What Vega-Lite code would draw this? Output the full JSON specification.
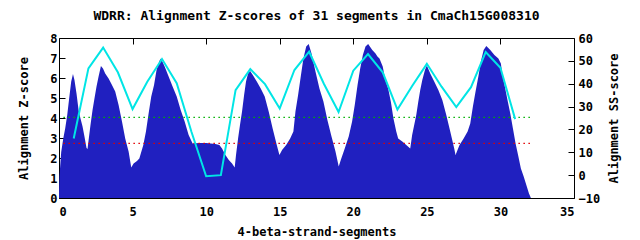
{
  "$schema": "https://vega.github.io/schema/vega-lite/v6.json",
  "width": 515,
  "height": 160,
  "autosize": "none",
  "padding": {"left": 59, "top": 38, "right": 66, "bottom": 42},
  "background": "white",
  "config": {
    "view": {"stroke": "black", "strokeWidth": 1},
    "font": "DejaVu Sans Mono",
    "axis": {"grid": false, "domain": false, "labelFont": "DejaVu Sans Mono", "labelFontWeight": "bold", "labelFontSize": 12, "labelColor": "black", "titleFont": "DejaVu Sans Mono", "titleFontWeight": "bold", "titleFontSize": 12, "titleColor": "black", "tickColor": "black", "tickSize": -6}
  },
  "title": {"text": "WDRR: Alignment Z-scores of 31 segments in CmaCh15G008310", "font": "DejaVu Sans Mono", "fontSize": 13, "fontWeight": "bold", "color": "black", "anchor": "middle", "offset": 9},
  "datasets": {
    "z": [
      {"x": 0, "z": 0.25}, {"x": 0.03, "z": 1.07}, {"x": 0.15, "z": 2.3}, {"x": 0.29, "z": 2.98}, {"x": 0.42, "z": 3.48}, {"x": 0.56, "z": 4.15}, {"x": 0.69, "z": 4.98}, {"x": 0.83, "z": 5.82}, {"x": 0.95, "z": 6.2}, {"x": 1.05, "z": 5.9}, {"x": 1.19, "z": 5.23}, {"x": 1.33, "z": 4.4}, {"x": 1.46, "z": 3.98}, {"x": 1.6, "z": 3.57}, {"x": 1.73, "z": 3.07}, {"x": 1.87, "z": 2.5}, {"x": 1.94, "z": 2.45}, {"x": 2.0, "z": 2.82}, {"x": 2.14, "z": 3.65}, {"x": 2.28, "z": 4.4}, {"x": 2.41, "z": 4.98}, {"x": 2.55, "z": 5.57}, {"x": 2.69, "z": 6.07}, {"x": 2.85, "z": 6.6}, {"x": 2.99, "z": 6.48}, {"x": 3.14, "z": 6.23}, {"x": 3.37, "z": 5.98}, {"x": 3.6, "z": 5.65}, {"x": 3.82, "z": 5.32}, {"x": 4.05, "z": 4.65}, {"x": 4.28, "z": 3.82}, {"x": 4.5, "z": 2.98}, {"x": 4.73, "z": 2.32}, {"x": 4.91, "z": 1.52}, {"x": 5.07, "z": 1.73}, {"x": 5.3, "z": 1.85}, {"x": 5.46, "z": 1.98}, {"x": 5.73, "z": 2.65}, {"x": 5.91, "z": 3.32}, {"x": 6.09, "z": 4.23}, {"x": 6.27, "z": 5.07}, {"x": 6.46, "z": 5.65}, {"x": 6.63, "z": 6.4}, {"x": 6.82, "z": 6.85}, {"x": 6.93, "z": 6.98}, {"x": 7.18, "z": 6.57}, {"x": 7.45, "z": 6.07}, {"x": 7.72, "z": 5.57}, {"x": 8.0, "z": 5.07}, {"x": 8.27, "z": 4.4}, {"x": 8.54, "z": 3.82}, {"x": 8.81, "z": 3.15}, {"x": 9.08, "z": 2.73}, {"x": 9.5, "z": 2.75}, {"x": 10.0, "z": 2.75}, {"x": 10.63, "z": 2.7}, {"x": 10.9, "z": 2.65}, {"x": 11.08, "z": 2.48}, {"x": 11.31, "z": 2.15}, {"x": 11.54, "z": 1.9}, {"x": 11.76, "z": 1.73}, {"x": 11.94, "z": 1.52}, {"x": 12.03, "z": 2.15}, {"x": 12.17, "z": 2.98}, {"x": 12.3, "z": 3.65}, {"x": 12.44, "z": 4.32}, {"x": 12.58, "z": 5.15}, {"x": 12.71, "z": 5.82}, {"x": 12.85, "z": 6.23}, {"x": 12.99, "z": 6.35}, {"x": 13.17, "z": 6.15}, {"x": 13.44, "z": 5.82}, {"x": 13.71, "z": 5.48}, {"x": 13.98, "z": 5.07}, {"x": 14.25, "z": 4.32}, {"x": 14.52, "z": 3.48}, {"x": 14.8, "z": 2.65}, {"x": 14.98, "z": 2.15}, {"x": 15.16, "z": 2.4}, {"x": 15.44, "z": 2.65}, {"x": 15.71, "z": 2.98}, {"x": 15.93, "z": 3.32}, {"x": 16.07, "z": 4.32}, {"x": 16.25, "z": 5.15}, {"x": 16.43, "z": 6.07}, {"x": 16.61, "z": 6.98}, {"x": 16.8, "z": 7.57}, {"x": 16.97, "z": 7.7}, {"x": 17.16, "z": 7.23}, {"x": 17.43, "z": 6.32}, {"x": 17.7, "z": 5.48}, {"x": 17.97, "z": 4.82}, {"x": 18.24, "z": 3.9}, {"x": 18.52, "z": 3.07}, {"x": 18.79, "z": 2.32}, {"x": 19.01, "z": 1.57}, {"x": 19.15, "z": 1.9}, {"x": 19.42, "z": 2.48}, {"x": 19.69, "z": 3.07}, {"x": 19.92, "z": 3.82}, {"x": 20.1, "z": 4.65}, {"x": 20.29, "z": 5.65}, {"x": 20.47, "z": 6.48}, {"x": 20.65, "z": 7.15}, {"x": 20.83, "z": 7.57}, {"x": 21.01, "z": 7.7}, {"x": 21.29, "z": 7.4}, {"x": 21.51, "z": 7.23}, {"x": 21.64, "z": 7.07}, {"x": 21.78, "z": 6.98}, {"x": 22.0, "z": 6.57}, {"x": 22.18, "z": 5.9}, {"x": 22.37, "z": 5.48}, {"x": 22.55, "z": 4.82}, {"x": 22.73, "z": 3.98}, {"x": 22.92, "z": 3.32}, {"x": 23.05, "z": 2.98}, {"x": 23.33, "z": 2.82}, {"x": 23.6, "z": 2.65}, {"x": 23.87, "z": 2.48}, {"x": 24.0, "z": 3.15}, {"x": 24.14, "z": 3.65}, {"x": 24.28, "z": 4.15}, {"x": 24.42, "z": 4.82}, {"x": 24.55, "z": 5.4}, {"x": 24.69, "z": 5.9}, {"x": 24.87, "z": 6.4}, {"x": 25.0, "z": 6.62}, {"x": 25.23, "z": 6.23}, {"x": 25.5, "z": 5.82}, {"x": 25.78, "z": 5.4}, {"x": 26.05, "z": 4.9}, {"x": 26.32, "z": 4.15}, {"x": 26.59, "z": 3.32}, {"x": 26.86, "z": 2.48}, {"x": 26.95, "z": 2.15}, {"x": 27.22, "z": 2.65}, {"x": 27.5, "z": 2.98}, {"x": 27.77, "z": 3.32}, {"x": 27.95, "z": 3.73}, {"x": 28.13, "z": 4.57}, {"x": 28.31, "z": 5.32}, {"x": 28.5, "z": 6.07}, {"x": 28.67, "z": 6.82}, {"x": 28.86, "z": 7.4}, {"x": 29.04, "z": 7.6}, {"x": 29.31, "z": 7.4}, {"x": 29.59, "z": 7.15}, {"x": 29.86, "z": 6.98}, {"x": 30.03, "z": 6.73}, {"x": 30.12, "z": 6.23}, {"x": 30.3, "z": 5.57}, {"x": 30.48, "z": 4.9}, {"x": 30.67, "z": 4.23}, {"x": 30.85, "z": 3.48}, {"x": 31.03, "z": 2.73}, {"x": 31.22, "z": 2.07}, {"x": 31.39, "z": 1.48}, {"x": 31.58, "z": 1.07}, {"x": 31.76, "z": 0.65}, {"x": 31.94, "z": 0.23}, {"x": 32.07, "z": 0}
    ],
    "ss": [
      {"seg": 1, "ss": 16}, {"seg": 2, "ss": 46.7}, {"seg": 3, "ss": 55.8}, {"seg": 4, "ss": 45}, {"seg": 5, "ss": 28.9}, {"seg": 6, "ss": 40.9}, {"seg": 7, "ss": 50.8}, {"seg": 8, "ss": 40.2}, {"seg": 9, "ss": 19}, {"seg": 10, "ss": -0.5}, {"seg": 11, "ss": 0}, {"seg": 12, "ss": 37.2}, {"seg": 13, "ss": 46.4}, {"seg": 14, "ss": 39.8}, {"seg": 15, "ss": 29.2}, {"seg": 16, "ss": 46}, {"seg": 17, "ss": 54}, {"seg": 18, "ss": 40}, {"seg": 19, "ss": 27.6}, {"seg": 20, "ss": 45.7}, {"seg": 21, "ss": 53}, {"seg": 22, "ss": 45}, {"seg": 23, "ss": 28.7}, {"seg": 24, "ss": 39}, {"seg": 25, "ss": 48.7}, {"seg": 26, "ss": 38.7}, {"seg": 27, "ss": 29.8}, {"seg": 28, "ss": 38.5}, {"seg": 29, "ss": 53.8}, {"seg": 30, "ss": 47}, {"seg": 31, "ss": 24.5}
    ],
    "thr": [
      {"x1": 0.3, "x2": 32.2, "y": 4.03, "c": "green"},
      {"x1": 0.3, "x2": 32.2, "y": 2.73, "c": "red"}
    ]
  },
  "layer": [
    {
      "data": {"name": "z"},
      "mark": {"type": "area", "color": "#2020c0", "interpolate": "linear", "clip": true},
      "encoding": {
        "x": {"field": "x", "type": "quantitative", "scale": {"domain": [0, 35], "nice": false, "zero": false}, "axis": {"orient": "bottom", "values": [0, 5, 10, 15, 20, 25, 30, 35], "title": "4-beta-strand-segments", "labelPadding": 14, "titlePadding": 9}},
        "y": {"field": "z", "type": "quantitative", "scale": {"domain": [0, 8], "nice": false}, "axis": {"orient": "left", "values": [0, 1, 2, 3, 4, 5, 6, 7, 8], "title": "Alignment Z-score", "labelPadding": 8, "titlePadding": 19}}
      }
    },
    {
      "data": {"name": "thr"},
      "mark": {"type": "rule", "strokeWidth": 1.2, "strokeDash": [1.5, 3.5]},
      "encoding": {
        "x": {"field": "x1", "type": "quantitative", "scale": {"domain": [0, 35], "nice": false, "zero": false}, "axis": {"orient": "top", "values": [5, 10, 15, 20, 25, 30], "labels": false, "title": null}},
        "x2": {"field": "x2"},
        "y": {"field": "y", "type": "quantitative", "scale": {"domain": [0, 8], "nice": false}, "axis": null},
        "color": {"field": "c", "type": "nominal", "scale": {"domain": ["green", "red"], "range": ["#00b000", "#e00000"]}, "legend": null}
      }
    },
    {
      "data": {"name": "ss"},
      "mark": {"type": "line", "color": "#00e5e5", "strokeWidth": 2},
      "encoding": {
        "x": {"field": "seg", "type": "quantitative", "scale": {"domain": [0, 35], "nice": false, "zero": false}, "axis": null},
        "y": {"field": "ss", "type": "quantitative", "scale": {"domain": [-10, 60], "nice": false, "zero": false}, "axis": {"orient": "right", "values": [-10, 0, 10, 20, 30, 40, 50, 60], "title": "Alignment SS-score", "titleAngle": 270, "labelPadding": 10, "titlePadding": 21}}
      }
    }
  ],
  "resolve": {"scale": {"y": "independent"}, "axis": {"x": "independent", "y": "independent"}}
}
